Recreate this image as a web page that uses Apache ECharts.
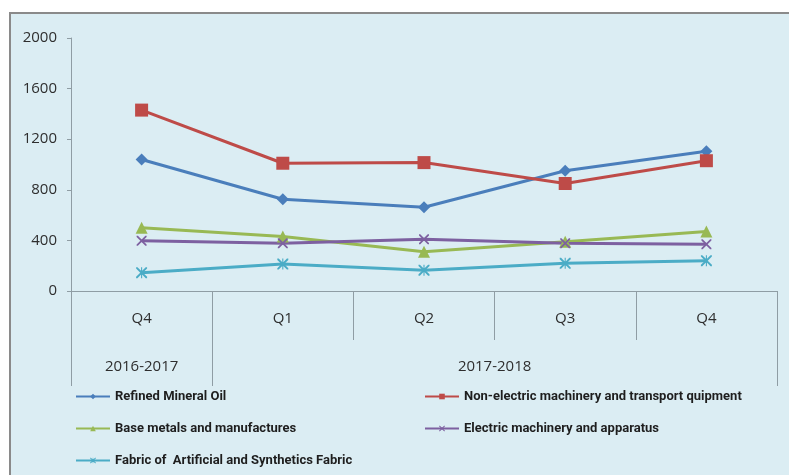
<!DOCTYPE html>
<html>
<head>
<meta charset="utf-8">
<script src="https://cdn.jsdelivr.net/npm/echarts@6/dist/echarts.min.js"></script>
<style>
  html, body { margin: 0; padding: 0; background: #fff; }
  #chart { width: 789px; height: 475px; }
</style>
</head>
<body>
<div id="chart"></div>
<script>
const quarters = ['Q4', 'Q1', 'Q2', 'Q3', 'Q4'];
const years = ['2016-2017', '2017-2018'];
const yearSpans = [1, 4]; // quarters per fiscal year

const refinedOil = [1040, 725, 662, 950, 1105];
const nonElectric = [1430, 1010, 1015, 850, 1030];
const baseMetals = [500, 430, 310, 390, 470];
const electric = [397, 377, 409, 377, 369];
const fabric = [145, 213, 165, 219, 240];

const seriesNames = [
  'Refined Mineral Oil',
  'Non-electric machinery and transport quipment',
  'Base metals and manufactures',
  'Electric machinery and apparatus',
  'Fabric of  Artificial and Synthetics Fabric',
];

// half-quarter slots so that group labels can sit between quarters
const yearSlots = [];
const yearTicks = [];
let pos = 0;
for (let i = 0; i <= quarters.length * 2; i++) yearSlots.push('');
years.forEach((y, i) => {
  yearTicks.push(pos * 2);
  yearSlots[pos * 2 + yearSpans[i]] = y;
  pos += yearSpans[i];
});
yearTicks.push(pos * 2);

const X_MARK = 'path://M0,0 L2.5,0 L10,7.5 L17.5,0 L20,0 L20,2.5 L12.5,10 L20,17.5 L20,20 L17.5,20 L10,12.5 L2.5,20 L0,20 L0,17.5 L7.5,10 L0,2.5 Z';
const STAR_MARK = X_MARK + ' M9,0 L11,0 L11,20 L9,20 Z';

const axisColor = '#8f9da4';
const labelFont = "'Open Sans', sans-serif";
const labelColor = '#2e2e2e';
const legendText = {
  fontFamily: "'Liberation Sans Narrow', 'Roboto', sans-serif",
  fontWeight: 'bold',
  fontSize: 13,
  color: '#1e1e1e',
};

const chart = echarts.init(document.getElementById('chart'));

function lineSeries(name, data, color, symbol, size) {
  return {
    name,
    type: 'line',
    data,
    symbol,
    symbolSize: size,
    color,
    lineStyle: { width: 3, color },
    itemStyle: { color },
  };
}

chart.setOption({
  animation: false,
  graphic: [{
    type: 'rect',
    z: -10,
    shape: { x: 10, y: 13, width: 800, height: 480 },
    style: { fill: '#dbedf3', stroke: '#8a8a8a', lineWidth: 2 },
  }],
  grid: { left: 71, right: 12, top: 38, bottom: 184 },
  xAxis: [
    {
      type: 'category',
      position: 'bottom',
      data: quarters,
      boundaryGap: true,
      axisLine: { lineStyle: { color: axisColor, width: 1 } },
      axisTick: { show: true, length: 49, interval: 0, lineStyle: { color: axisColor } },
      axisLabel: { margin: 20, fontSize: 15, color: labelColor, fontFamily: labelFont },
    },
    {
      type: 'category',
      position: 'bottom',
      offset: 0,
      data: yearSlots,
      boundaryGap: false,
      axisLine: { show: false },
      axisTick: {
        show: true,
        length: 95,
        interval: (idx) => yearTicks.includes(idx),
        lineStyle: { color: axisColor },
      },
      axisLabel: { interval: 0, margin: 68, fontSize: 15, color: labelColor, fontFamily: labelFont },
    },
  ],
  yAxis: {
    type: 'value',
    min: 0,
    max: 2000,
    interval: 400,
    axisLine: { show: true, lineStyle: { color: axisColor } },
    axisTick: { show: true, length: 4, lineStyle: { color: axisColor } },
    splitLine: { show: false },
    axisLabel: {
      margin: 14,
      fontSize: 15,
      color: labelColor,
      fontFamily: labelFont,
      formatter: (v) => String(v),
    },
  },
  legend: [
    {
      orient: 'vertical',
      left: 75,
      top: 390,
      padding: 0,
      itemGap: 19,
      itemWidth: 34,
      itemHeight: 7,
      textStyle: legendText,
      data: [seriesNames[0], seriesNames[2], seriesNames[4]],
    },
    {
      orient: 'vertical',
      left: 424,
      top: 390,
      padding: 0,
      itemGap: 19,
      itemWidth: 34,
      itemHeight: 7,
      textStyle: legendText,
      data: [seriesNames[1], seriesNames[3]],
    },
  ],
  series: [
    lineSeries(seriesNames[0], refinedOil, '#4a7ebb', 'diamond', 12),
    lineSeries(seriesNames[1], nonElectric, '#be4b48', 'rect', 13),
    lineSeries(seriesNames[2], baseMetals, '#98b954', 'triangle', 12),
    lineSeries(seriesNames[3], electric, '#7d60a0', X_MARK, 10),
    lineSeries(seriesNames[4], fabric, '#4bacc6', STAR_MARK, 11),
  ],
});
</script>
</body>
</html>
